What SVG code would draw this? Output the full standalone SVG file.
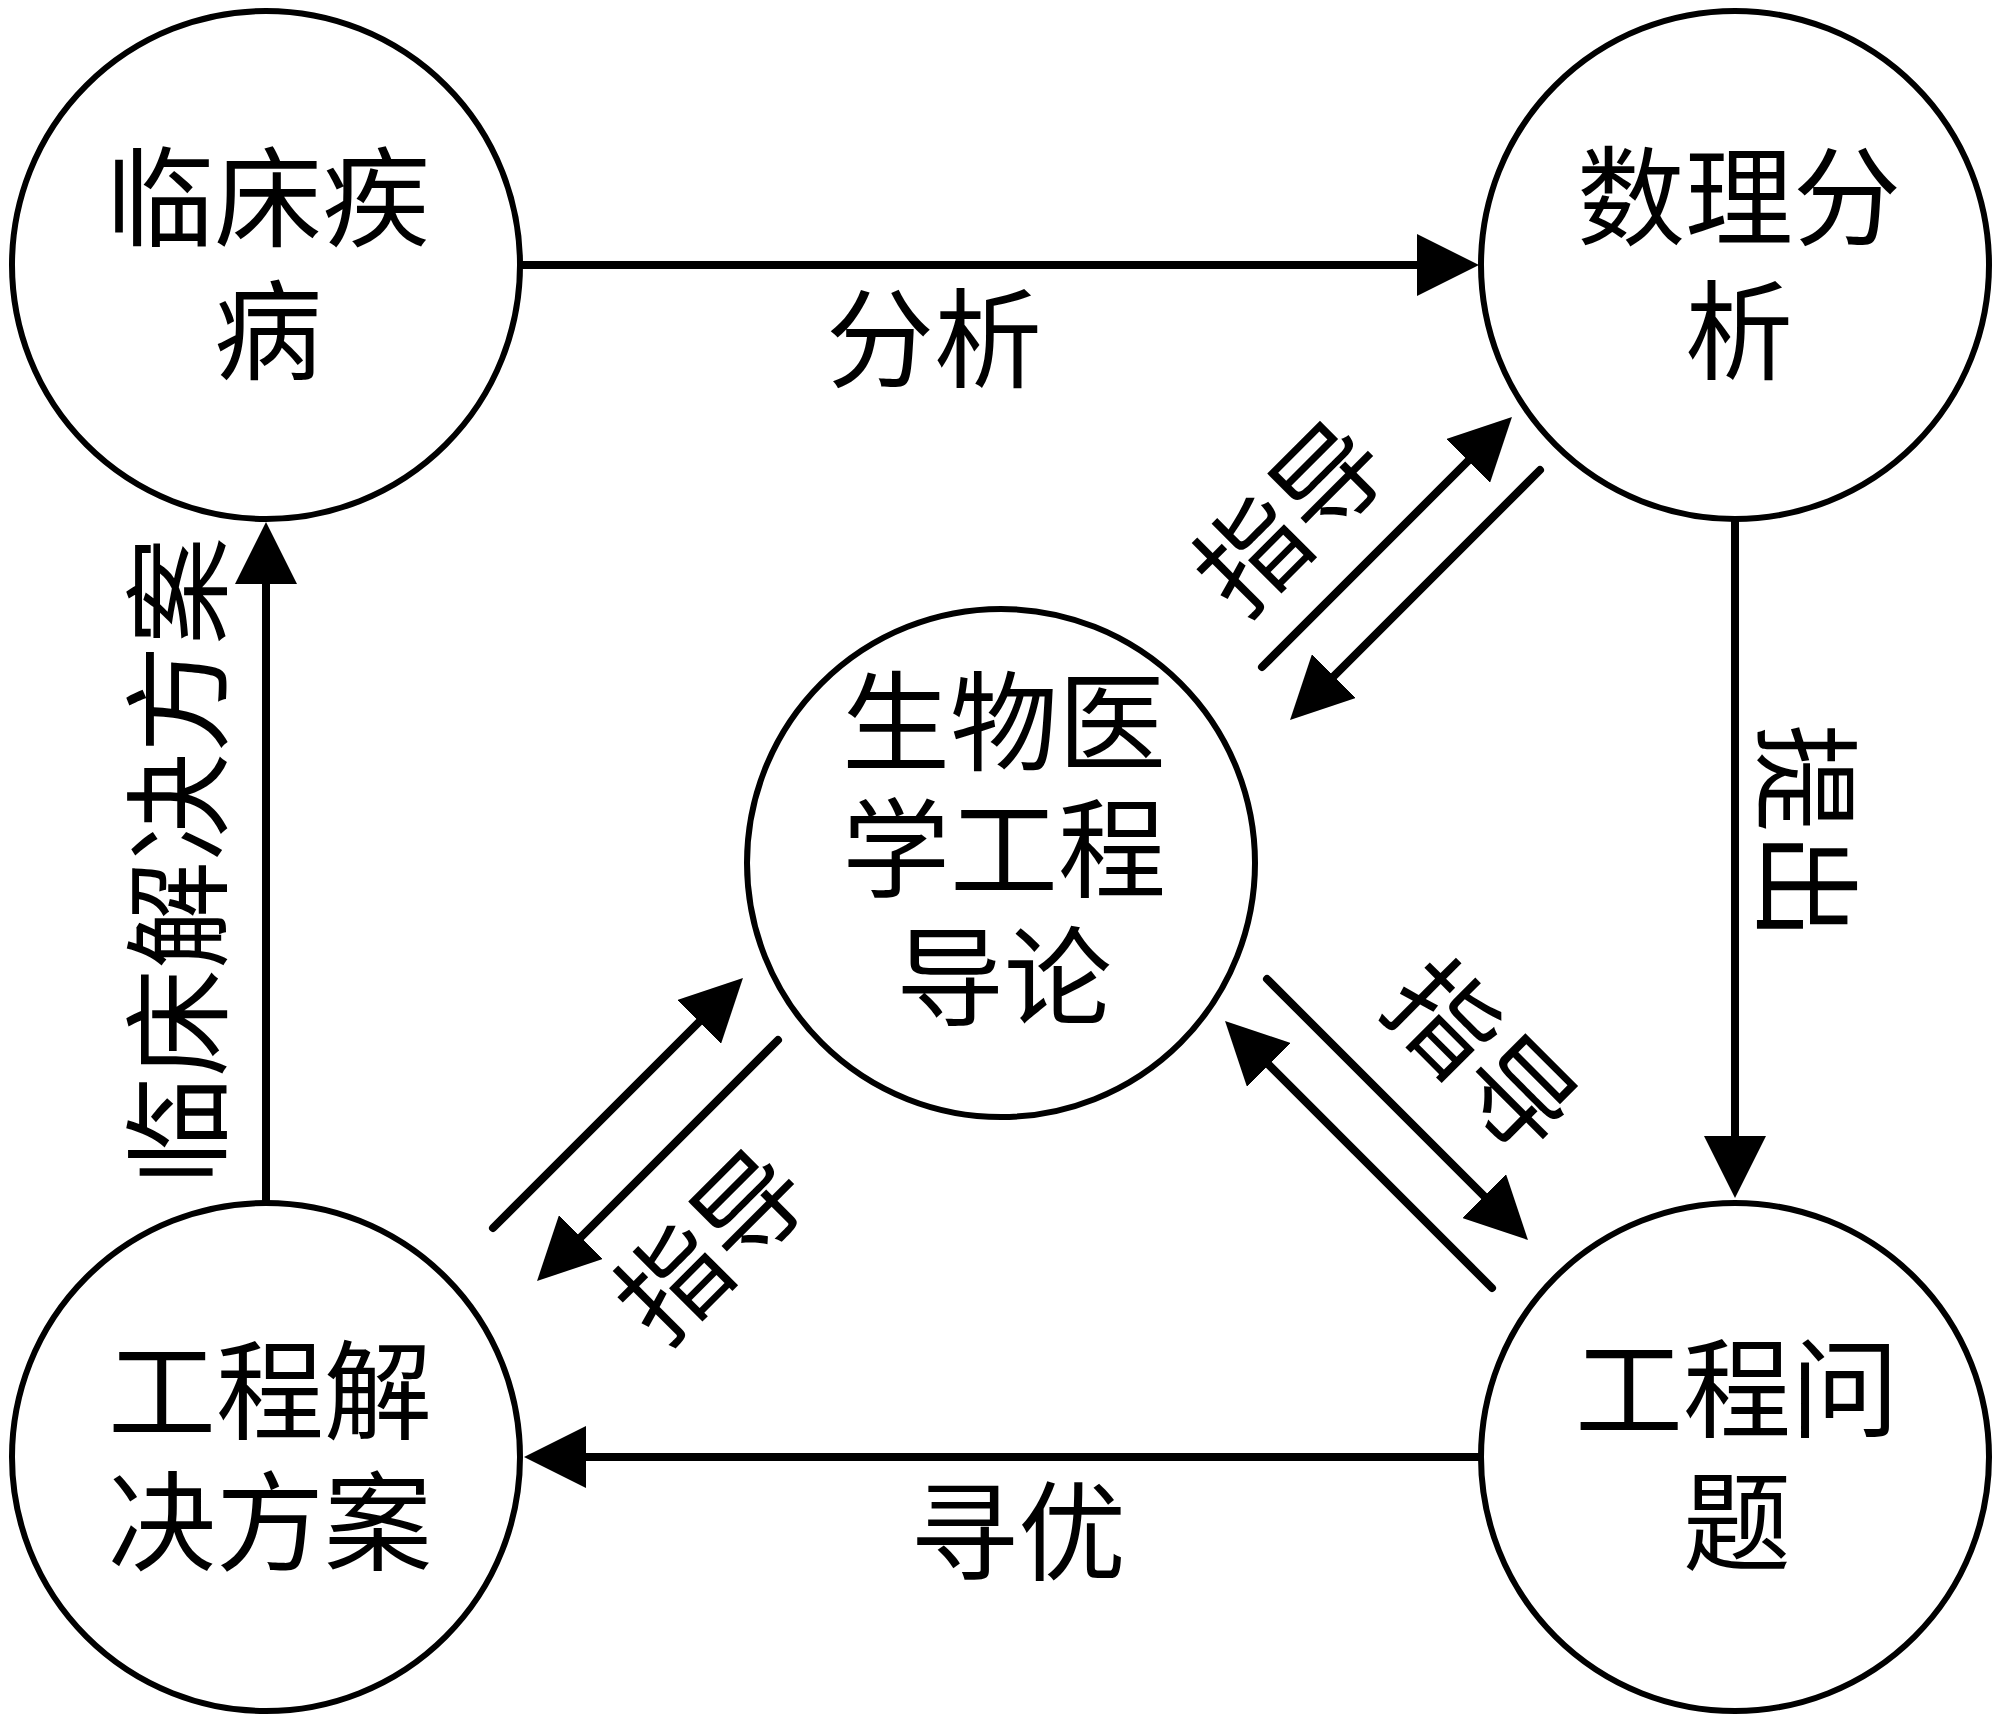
<svg xmlns="http://www.w3.org/2000/svg" width="2000" height="1721" viewBox="0 0 2000 1721">
<style>
  .node { fill: #ffffff; stroke: #000000; stroke-width: 6; }
  .t { font-family: "Noto Sans CJK SC", "Liberation Sans", sans-serif; font-size: 108px; fill: #000000; text-anchor: middle; }
  .conn { fill: none; stroke: #000000; stroke-width: 8; stroke-linecap: round; marker-end: url(#arrow); }
</style>
<defs>
  <marker id="arrow" markerUnits="userSpaceOnUse" markerWidth="62" markerHeight="62" viewBox="0 0 62 62" refX="12" refY="31" orient="auto">
    <path d="M0,0 L62,31 L0,62 z" fill="#000000"/>
  </marker>
</defs>
<rect x="0" y="0" width="2000" height="1721" fill="#ffffff"/>

<g id="connectors">
  <path class="conn" d="M521,265 L1429,265"/>
  <path class="conn" d="M1480,1457 L574,1457"/>
  <path class="conn" d="M1735,520 L1735,1148"/>
  <path class="conn" d="M266,1202 L266,572"/>
  <path class="conn" d="M1262,667 L1476.6,452.4"/>
  <path class="conn" d="M1540,470 L1325.4,684.6"/>
  <path class="conn" d="M493,1228 L707.6,1013.4"/>
  <path class="conn" d="M778,1040 L572.4,1245.6"/>
  <path class="conn" d="M1267,979 L1492.6,1204.6"/>
  <path class="conn" d="M1492,1288 L1260.4,1056.4"/>
</g>

<g id="edge-labels">
  <text class="t" x="934" y="379">分析</text>
  <text class="t" x="1018" y="1572">寻优</text>
  <text class="t" transform="translate(1766,832) rotate(90)" x="0" y="0">提出</text>
  <text class="t" transform="translate(218,861) rotate(-90)" x="0" y="0">临床解决方案</text>
  <text class="t" transform="translate(1318,545) rotate(-45)" x="0" y="0">指导</text>
  <text class="t" transform="translate(739,1273) rotate(-45)" x="0" y="0">指导</text>
  <text class="t" transform="translate(1454,1084) rotate(45)" x="0" y="0">指导</text>
</g>

<g id="node-clinical">
  <circle class="node" cx="266" cy="265" r="254"/>
  <text class="t" x="268" y="238"><tspan x="268" y="238">临床疾</tspan><tspan x="268" y="371">病</tspan></text>
</g>
<g id="node-math">
  <circle class="node" cx="1735" cy="265" r="254"/>
  <text class="t" x="1739" y="237"><tspan x="1739" y="237">数理分</tspan><tspan x="1739" y="371">析</tspan></text>
</g>
<g id="node-solution">
  <circle class="node" cx="266" cy="1457" r="254"/>
  <text class="t" x="270" y="1431"><tspan x="270" y="1431">工程解</tspan><tspan x="270" y="1562">决方案</tspan></text>
</g>
<g id="node-problem">
  <circle class="node" cx="1735" cy="1457" r="254"/>
  <text class="t" x="1737" y="1429"><tspan x="1737" y="1429">工程问</tspan><tspan x="1737" y="1562">题</tspan></text>
</g>
<g id="node-bme">
  <circle class="node" cx="1001" cy="863" r="254"/>
  <text class="t" x="1004" y="762"><tspan x="1004" y="762">生物医</tspan><tspan x="1004" y="889">学工程</tspan><tspan x="1004" y="1017">导论</tspan></text>
</g>
</svg>
